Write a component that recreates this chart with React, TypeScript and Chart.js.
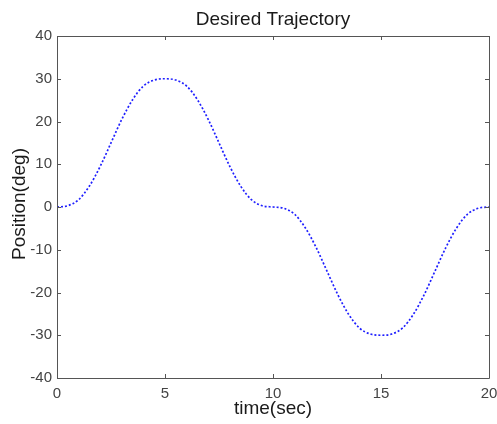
import React, { useEffect, useRef } from "react";
import { Chart, registerables } from "chart.js";

Chart.register(...registerables);

const timeSec = [0, 0.5, 1, 1.5, 2, 2.5, 3, 3.5, 4, 4.5, 5, 5.5, 6, 6.5, 7, 7.5, 8, 8.5, 9, 9.5, 10,
  10.5, 11, 11.5, 12, 12.5, 13, 13.5, 14, 14.5, 15, 15.5, 16, 16.5, 17, 17.5, 18, 18.5, 19, 19.5, 20];
const positionDeg = [0, 0.3, 1.7, 4.9, 9.5, 15, 20.5, 25.1, 28.3, 29.7, 30, 29.7, 28.3, 25.1, 20.5, 15, 9.5, 4.9, 1.7, 0.3, 0,
  -0.3, -1.7, -4.9, -9.5, -15, -20.5, -25.1, -28.3, -29.7, -30, -29.7, -28.3, -25.1, -20.5, -15, -9.5, -4.9, -1.7, -0.3, 0];
const xTicks = [0, 5, 10, 15, 20];
const yTicks = [-40, -30, -20, -10, 0, 10, 20, 30, 40];
const titleText = "Desired Trajectory";
const xTitle = "time(sec)";
const yTitle = "Position(deg)";

const FONT = "'Liberation Sans', Arial, Helvetica, sans-serif";

const framePlugin = {
  id: "frame",
  afterDraw(chart: any) {
    const { ctx, chartArea } = chart;
    const { left, right, top, bottom } = chartArea;
    const xs = chart.scales.x;
    const ys = chart.scales.y;
    ctx.save();
    ctx.strokeStyle = "#555";
    ctx.lineWidth = 1;
    ctx.beginPath();
    ctx.rect(Math.round(left) + 0.5, Math.round(top) + 0.5, Math.round(right - left), Math.round(bottom - top));
    ctx.stroke();
    const tl = 4;
    ctx.beginPath();
    xTicks.forEach((v) => {
      const px = Math.round(xs.getPixelForValue(v)) + 0.5;
      ctx.moveTo(px, bottom);
      ctx.lineTo(px, bottom - tl);
      ctx.moveTo(px, top);
      ctx.lineTo(px, top + tl);
    });
    yTicks.forEach((v) => {
      const py = Math.round(ys.getPixelForValue(v)) + 0.5;
      ctx.moveTo(left, py);
      ctx.lineTo(left + tl, py);
      ctx.moveTo(right, py);
      ctx.lineTo(right - tl, py);
    });
    ctx.stroke();

    ctx.fillStyle = "#1a1a1a";
    ctx.textAlign = "center";
    ctx.textBaseline = "alphabetic";
    ctx.font = `19px ${FONT}`;
    ctx.fillText(titleText, (left + right) / 2, 25);
    ctx.fillText(xTitle, (left + right) / 2, 414);
    ctx.save();
    ctx.translate(25, 204);
    ctx.rotate(-Math.PI / 2);
    ctx.fillText(yTitle, 0, 0);
    ctx.restore();
    ctx.restore();
  },
};

export default function App() {
  const ref = useRef<HTMLCanvasElement | null>(null);
  useEffect(() => {
    document.body.style.margin = "0";
    const canvas = ref.current!;
    const chart = new Chart(canvas, {
      type: "line",
      data: {
        datasets: [
          {
            data: timeSec.map((t, i) => ({ x: t, y: positionDeg[i] })),
            borderColor: "#1f1fff",
            borderWidth: 1.7,
            borderDash: [2, 2],
            pointRadius: 0,
            cubicInterpolationMode: "monotone",
            fill: false,
          },
        ],
      },
      options: {
        responsive: false,
        animation: false,
        devicePixelRatio: 1,
        layout: { padding: { left: 0, right: 8, top: 36, bottom: 0 } },
        plugins: { legend: { display: false }, title: { display: false }, tooltip: { enabled: false } },
        scales: {
          x: {
            type: "linear",
            min: 0,
            max: 20,
            afterBuildTicks: (s: any) => { s.ticks = xTicks.map((v) => ({ value: v })); },
            afterFit: (s: any) => { s.height = 46; s.paddingLeft = 0; s.paddingRight = 0; },
            grid: { display: false, drawTicks: false },
            border: { display: false },
            ticks: { color: "#444", font: { family: FONT, size: 15 }, padding: 7, maxRotation: 0 },
          },
          y: {
            type: "linear",
            min: -40,
            max: 40,
            afterBuildTicks: (s: any) => { s.ticks = yTicks.map((v) => ({ value: v })); },
            afterFit: (s: any) => { s.width = 57; s.paddingTop = 0; s.paddingBottom = 0; },
            grid: { display: false, drawTicks: false },
            border: { display: false },
            ticks: { color: "#444", font: { family: FONT, size: 15 }, padding: 5 },
          },
        },
      },
      plugins: [framePlugin],
    } as any);
    return () => chart.destroy();
  }, []);
  return <canvas ref={ref} width={497} height={424} style={{ display: "block" }} />;
}
